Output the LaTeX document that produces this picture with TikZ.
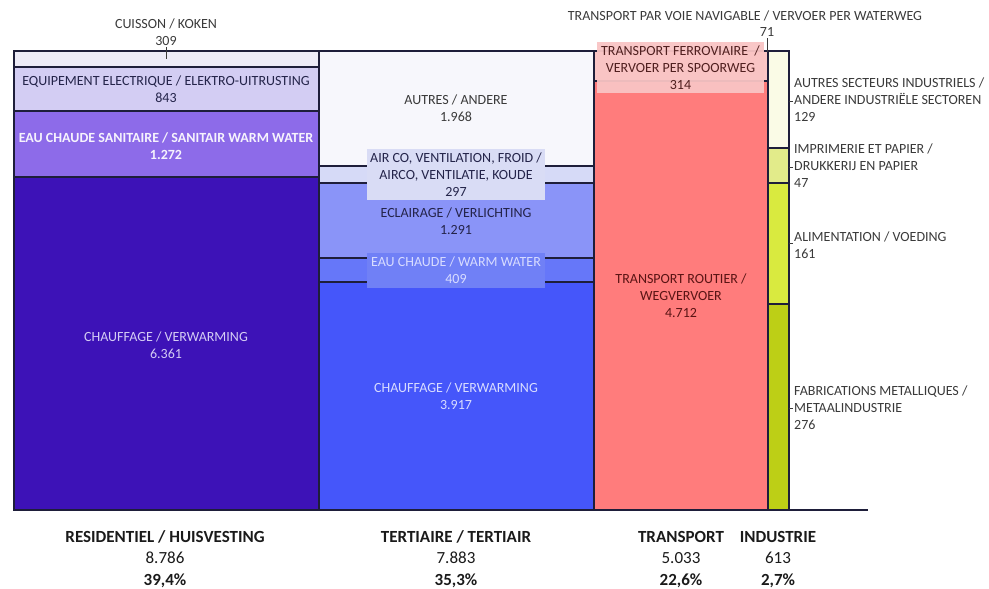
\documentclass[tikz,border=0pt]{standalone}
\usepackage{fontspec}
\setmainfont{Carlito}
\definecolor{linecol}{HTML}{1E1E3A}
\definecolor{rCui}{HTML}{EDEBF7}
\definecolor{rEqu}{HTML}{D3CDF3}
\definecolor{rEau}{HTML}{8D6BE9}
\definecolor{rCha}{HTML}{3D12B7}
\definecolor{tAut}{HTML}{F7F7FC}
\definecolor{tAir}{HTML}{D6DAF7}
\definecolor{tEcl}{HTML}{8A94F8}
\definecolor{tEau}{HTML}{6677F9}
\definecolor{tCha}{HTML}{4556FA}
\definecolor{trRail}{HTML}{FAC5C5}
\definecolor{trRoad}{HTML}{FF7C7C}
\definecolor{iAut}{HTML}{FAFBE6}
\definecolor{iImp}{HTML}{E2EB8A}
\definecolor{iAli}{HTML}{D9EA3F}
\definecolor{iFab}{HTML}{BDCF16}
\definecolor{tAirBox}{HTML}{D9DCF5}
\definecolor{tEauBox}{HTML}{7080F6}
\definecolor{railBox}{HTML}{F9C4C4}
\definecolor{txtgray}{HTML}{3A3A3A}
\definecolor{txtnavy}{HTML}{24244A}
\definecolor{txtlight}{HTML}{D4CCF4}
\definecolor{txtlightb}{HTML}{D8DCFF}
\definecolor{txtred}{HTML}{5A1414}
\definecolor{txtblack}{HTML}{1A1A1A}
\begin{document}
\begin{tikzpicture}[x=1pt,y=-1pt,
  seg/.style={draw=linecol, line width=1.3pt},
  tickline/.style={draw=txtgray, line width=0.8pt},
  lbl/.style={align=center, inner sep=0pt, font=\fontsize{14}{17}\selectfont, text=txtgray},
  rlbl/.style={align=left, inner sep=0pt, anchor=west, font=\fontsize{14}{17}\selectfont, text=txtgray},
  catlbl/.style={align=center, inner sep=0pt, font=\fontsize{17}{20}\selectfont\bfseries, text=txtblack},
  catval/.style={align=center, inner sep=0pt, font=\fontsize{17}{20}\selectfont, text=txtblack},
  boxlbl/.style={lbl, minimum width=178pt, minimum height=51pt}
]
\useasboundingbox (0,0) rectangle (989,589);

% Residential
\draw[seg,fill=rCui] (14,51) rectangle (319,67);
\draw[seg,fill=rEqu] (14,67) rectangle (319,111);
\draw[seg,fill=rEau] (14,111) rectangle (319,177);
\draw[seg,fill=rCha] (14,177) rectangle (319,510);
% Tertiary
\draw[seg,fill=tAut] (319,51) rectangle (594,166);
\draw[seg,fill=tAir] (319,166) rectangle (594,183);
\draw[seg,fill=tEcl] (319,183) rectangle (594,258);
\draw[seg,fill=tEau] (319,258) rectangle (594,282);
\draw[seg,fill=tCha] (319,282) rectangle (594,510);
% Transport
\draw[seg,fill=trRail] (594,51) rectangle (768,81);
\draw[seg,fill=trRoad] (594,81) rectangle (768,510);
% Industry
\draw[seg,fill=iAut] (768,51) rectangle (789,148);
\draw[seg,fill=iImp] (768,148) rectangle (789,183);
\draw[seg,fill=iAli] (768,183) rectangle (789,304);
\draw[seg,fill=iFab] (768,304) rectangle (789,510);
% axis
\coordinate (axL) at (14,510);
\coordinate (axR) at (868,510);
\draw[seg] (axL) -- (axR);

% Residential labels
\node[lbl] (cuis) at (166,32) {CUISSON / KOKEN\\309};
\coordinate (cuisA) at (166,47);
\coordinate (cuisB) at (166,59);
\draw[tickline] (cuisA) -- (cuisB);
\node[lbl, text=txtnavy] (equ) at (166,89.5) {EQUIPEMENT ELECTRIQUE / ELEKTRO-UITRUSTING\\843};
\node[lbl, text=white!92!rEau, font=\fontsize{14}{17}\selectfont\bfseries] (eau) at (166,146.5) {EAU CHAUDE SANITAIRE / SANITAIR WARM WATER\\1.272};
\node[lbl, text=txtlight] (cha) at (166,345) {CHAUFFAGE / VERWARMING\\6.361};

% Tertiary labels
\node[lbl] (taut) at (456,108.5) {AUTRES / ANDERE\\1.968};
\node[boxlbl, fill=tAirBox, text=txtnavy] (tair) at (456,174.5) {AIR CO, VENTILATION, FROID /\\AIRCO, VENTILATIE, KOUDE\\297};
\node[lbl, text=txtnavy] (tecl) at (456,221.5) {ECLAIRAGE / VERLICHTING\\1.291};
\node[boxlbl, fill=tEauBox, minimum height=35pt, text=txtlightb] (teau) at (456,270.5) {EAU CHAUDE / WARM WATER\\409};
\node[lbl, text=txtlightb] (tcha) at (456,396.5) {CHAUFFAGE / VERWARMING\\3.917};

% Transport labels
\node[lbl] (water) at (745,16) {TRANSPORT PAR VOIE NAVIGABLE / VERVOER PER WATERWEG};
\node[lbl] (w71) at (767,32) {71};
\coordinate (wA) at (767,38);
\coordinate (wB) at (767,52);
\draw[tickline] (wA) -- (wB);
\node[boxlbl, fill=railBox, fill opacity=0.95, text opacity=1, minimum width=167pt, text=txtred!70!txtgray] (rail) at (680.5,67.5) {TRANSPORT FERROVIAIRE~~/\\VERVOER PER SPOORWEG\\314};
\node[lbl, text=txtred] (road) at (681,296) {TRANSPORT ROUTIER /\\WEGVERVOER\\4.712};

% Industry labels
\node[rlbl] (iaut) at (794,100) {AUTRES SECTEURS INDUSTRIELS /\\ANDERE INDUSTRIËLE SECTOREN\\129};
\node[rlbl] (iimp) at (794,166) {IMPRIMERIE ET PAPIER /\\DRUKKERIJ EN PAPIER\\47};
\node[rlbl] (iali) at (794,245) {ALIMENTATION / VOEDING\\161};
\node[rlbl] (ifab) at (794,408) {FABRICATIONS METALLIQUES /\\METAALINDUSTRIE\\276};
\coordinate (t1a) at (789,101); \coordinate (t1b) at (793,101);
\coordinate (t2a) at (789,167); \coordinate (t2b) at (793,167);
\coordinate (t3a) at (789,243); \coordinate (t3b) at (793,243);
\coordinate (t4a) at (789,408); \coordinate (t4b) at (793,408);
\draw[tickline] (t1a) -- (t1b);
\draw[tickline] (t2a) -- (t2b);
\draw[tickline] (t3a) -- (t3b);
\draw[tickline] (t4a) -- (t4b);

% Category labels
\node[catlbl] (cres) at (165,537) {RESIDENTIEL / HUISVESTING};
\node[catval] (vres) at (165,558) {8.786};
\node[catlbl] (pres) at (165,581) {39,4\%};
\node[catlbl] (cter) at (456,537) {TERTIAIRE / TERTIAIR};
\node[catval] (vter) at (456,558) {7.883};
\node[catlbl] (pter) at (456,581) {35,3\%};
\node[catlbl] (ctra) at (681,537) {TRANSPORT};
\node[catval] (vtra) at (681,558) {5.033};
\node[catlbl] (ptra) at (681,581) {22,6\%};
\node[catlbl] (cind) at (778,537) {INDUSTRIE};
\node[catval] (vind) at (778,558) {613};
\node[catlbl] (pind) at (778,581) {2,7\%};
\end{tikzpicture}
\end{document}
